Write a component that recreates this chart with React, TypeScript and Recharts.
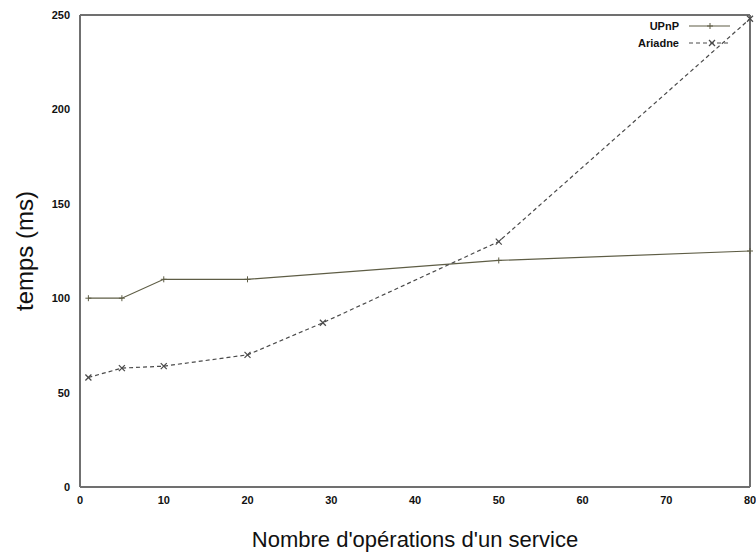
import { LineChart, Line, XAxis, YAxis } from "recharts";

const xTicks = [0, 10, 20, 30, 40, 50, 60, 70, 80];
const yTicks = [0, 50, 100, 150, 200, 250];

const upnpX = [1, 5, 10, 20, 50, 80];
const upnpY = [100, 100, 110, 110, 120, 125];

const ariadneX = [1, 5, 10, 20, 29, 50, 80];
const ariadneY = [58, 63, 64, 70, 87, 130, 248];

const seriesNames = ["UPnP", "Ariadne"];

const upnpData = upnpX.map((x, i) => ({ x, y: upnpY[i] }));
const ariadneData = ariadneX.map((x, i) => ({ x, y: ariadneY[i] }));

const AXIS = "#707070";
const UPNP_COLOR = "#5e5d45";
const ARIADNE_COLOR = "#4a4a4a";
const FONT = "'Liberation Sans', Arial, sans-serif";

const PlusDot = (props: any) => {
  const { cx, cy } = props;
  if (cx == null || cy == null) return null;
  return (
    <g stroke={UPNP_COLOR} strokeWidth={1}>
      <line x1={cx - 3} y1={cy} x2={cx + 3} y2={cy} />
      <line x1={cx} y1={cy - 3} x2={cx} y2={cy + 3} />
    </g>
  );
};

const CrossDot = (props: any) => {
  const { cx, cy } = props;
  if (cx == null || cy == null) return null;
  return (
    <g stroke={ARIADNE_COLOR} strokeWidth={1.2}>
      <line x1={cx - 3} y1={cy - 3} x2={cx + 3} y2={cy + 3} />
      <line x1={cx - 3} y1={cy + 3} x2={cx + 3} y2={cy - 3} />
    </g>
  );
};

const tickStyle = { fill: "#111", fontSize: 11, fontWeight: 700, fontFamily: FONT };
const blank = () => "";

export default function App() {
  return (
    <div style={{ position: "absolute", left: 0, top: 0, width: 756, height: 555, background: "#fff" }}>
      <LineChart width={756} height={555} margin={{ top: 15, right: 6, left: 0, bottom: 0 }}>
        <XAxis
          xAxisId="main"
          dataKey="x"
          type="number"
          domain={[0, 80]}
          ticks={xTicks}
          height={68}
          tickSize={0}
          tickMargin={9}
          tickLine={false}
          axisLine={{ stroke: AXIS, strokeWidth: 2 }}
          tick={tickStyle}
          allowDuplicatedCategory={false}
          label={{
            content: (p: any) => {
              const vb = p.viewBox;
              return (
                <text x={vb.x + vb.width / 2} y={vb.y + 60} textAnchor="middle" fontSize={22} fontFamily={FONT} fill="#111">
                  Nombre d'opérations d'un service
                </text>
              );
            },
          }}
        />
        <XAxis xAxisId="bticks" type="number" domain={[0, 80]} ticks={xTicks} mirror tickSize={5} tickFormatter={blank} axisLine={false} tickLine={{ stroke: AXIS }} />
        <XAxis xAxisId="top" orientation="top" type="number" domain={[0, 80]} ticks={xTicks} mirror tickSize={5} tickFormatter={blank} axisLine={{ stroke: AXIS, strokeWidth: 2 }} tickLine={{ stroke: AXIS }} />
        <YAxis
          yAxisId="main"
          type="number"
          domain={[0, 250]}
          ticks={yTicks}
          width={80}
          tickSize={0}
          tickMargin={10}
          tickLine={false}
          axisLine={{ stroke: AXIS, strokeWidth: 2 }}
          tick={tickStyle}
          label={{
            content: (p: any) => {
              const vb = p.viewBox;
              const cx = vb.x + 24;
              const cy = vb.y + vb.height / 2;
              return (
                <text x={cx} y={cy} textAnchor="middle" dominantBaseline="central" transform={`rotate(-90, ${cx}, ${cy})`} fontSize={24} fontFamily={FONT} fill="#111">
                  temps (ms)
                </text>
              );
            },
          }}
        />
        <YAxis yAxisId="lticks" type="number" domain={[0, 250]} ticks={yTicks} mirror tickSize={5} tickFormatter={blank} axisLine={false} tickLine={{ stroke: AXIS }} />
        <YAxis yAxisId="right" orientation="right" type="number" domain={[0, 250]} ticks={yTicks} mirror tickSize={5} tickFormatter={blank} axisLine={{ stroke: AXIS, strokeWidth: 2 }} tickLine={{ stroke: AXIS }} />
        <Line
          xAxisId="main"
          yAxisId="main"
          data={upnpData}
          dataKey="y"
          name={seriesNames[0]}
          type="linear"
          stroke={UPNP_COLOR}
          strokeWidth={1.2}
          dot={<PlusDot />}
          isAnimationActive={false}
        />
        <Line
          xAxisId="main"
          yAxisId="main"
          data={ariadneData}
          dataKey="y"
          name={seriesNames[1]}
          type="linear"
          stroke={ARIADNE_COLOR}
          strokeWidth={1.2}
          strokeDasharray="4 3"
          dot={<CrossDot />}
          isAnimationActive={false}
        />
      </LineChart>
      <svg width={140} height={40} style={{ position: "absolute", left: 600, top: 14 }}>
        <g fontFamily={FONT} fontSize={11} fontWeight={700} fill="#111">
          <text x={79} y={16} textAnchor="end">{seriesNames[0]}</text>
          <text x={79} y={33} textAnchor="end">{seriesNames[1]}</text>
        </g>
        <line x1={89} y1={12} x2={130} y2={12} stroke={UPNP_COLOR} strokeWidth={1.2} />
        <PlusDot cx={110} cy={12} />
        <line x1={89} y1={29} x2={130} y2={29} stroke={ARIADNE_COLOR} strokeWidth={1.2} strokeDasharray="4 3" />
        <CrossDot cx={112} cy={29} />
      </svg>
    </div>
  );
}
